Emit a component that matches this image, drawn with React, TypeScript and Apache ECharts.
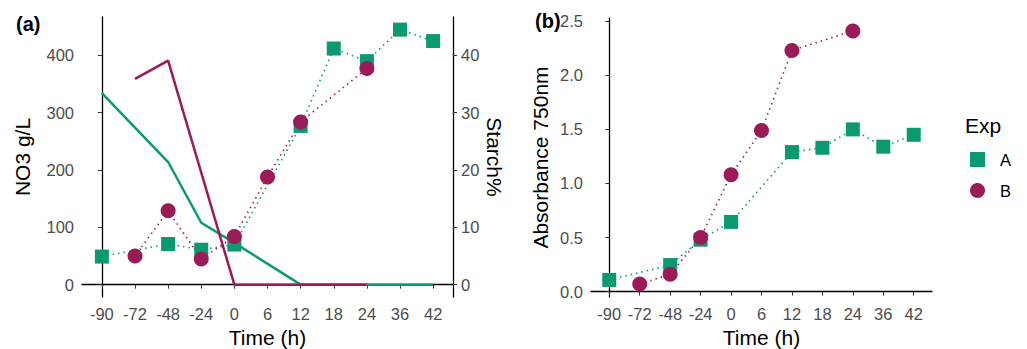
import React, { useEffect, useRef } from "react";
import * as echarts from "echarts";

const timeLabels = ["-90", "-72", "-48", "-24", "0", "6", "12", "18", "24", "36", "42"];

// Panel (a): nitrate (solid lines, left axis) – [time index, value]
const no3A: [number, number][] = [[0, 334], [2, 214], [3, 108], [4, 73], [6, 0], [7, 0], [8, 0], [9, 0], [10, 0]];
const no3B: [number, number][] = [[1, 359], [2, 391], [4, 0], [5, 0], [6, 0], [8, 0]];

// Panel (a): starch % (dotted + markers, right axis)
const starchA: [number, number][] = [[0, 4.9], [2, 7.1], [3, 6.1], [4, 7.0], [6, 27.7], [7, 41.2], [8, 39.0], [9, 44.5], [10, 42.5]];
const starchB: [number, number][] = [[1, 5.0], [2, 12.9], [3, 4.5], [4, 8.4], [5, 18.8], [6, 28.4], [8, 37.7]];

// Panel (b): absorbance 750nm
const absA: [number, number][] = [[0, 0.108], [2, 0.245], [3, 0.48], [4, 0.644], [6, 1.29], [7, 1.33], [8, 1.5], [9, 1.34], [10, 1.45]];
const absB: [number, number][] = [[1, 0.07], [2, 0.16], [3, 0.5], [4, 1.08], [5, 1.49], [6, 2.23], [8, 2.41]];

const no3Ticks = [0, 100, 200, 300, 400];
const starchTicks = [0, 10, 20, 30, 40];
const absTicks = [0, 0.5, 1, 1.5, 2, 2.5];
const xTicks = [0, 1, 2, 3, 4, 5, 6, 7, 8, 9, 10];

const GREEN = "#0A9A72";
const PURPLE = "#9B1B58";
const FONT = "Liberation Sans, Arial, sans-serif";

export default function App() {
  const ref = useRef<HTMLDivElement>(null);
  useEffect(() => {
    if (!ref.current) return;
    const chart = echarts.init(ref.current, undefined, { renderer: "svg" });
    const axisLine = { show: true, lineStyle: { color: "#000", width: 1.3 } };
    const axisTick = (vals: number[]) => ({ show: true, length: 4, lineStyle: { color: "#333", width: 1 }, customValues: vals });
    const label = (vals: number[], fmt?: (v: number) => string) => ({
      color: "#4D4D4D", fontSize: 16.5, fontFamily: FONT, customValues: vals, formatter: fmt, margin: 8,
    });
    const nameStyle = { color: "#000", fontSize: 21, fontFamily: FONT };
    const xAxisBase = (gridIndex: number) => ({
      type: "value" as const, gridIndex, min: -0.6, max: 10.6,
      axisLine, axisTick: axisTick(xTicks),
      axisLabel: label(xTicks, (v: number) => timeLabels[Math.round(v)] ?? ""),
      splitLine: { show: false },
      name: "Time (h)", nameLocation: "middle" as const, nameGap: 30, nameTextStyle: nameStyle,
    });
    const dotted = (color: string) => ({ color, width: 1.6, type: [1.5, 4] as any });
    chart.setOption({
      animation: false,
      textStyle: { fontFamily: FONT },
      grid: [
        { left: 82, width: 371, top: 17, height: 280, outerBoundsMode: "none", containLabel: false },
        { left: 591, width: 341, top: 18, height: 279, outerBoundsMode: "none", containLabel: false },
      ],
      xAxis: [xAxisBase(0), xAxisBase(1)],
      yAxis: [
        {
          type: "value", gridIndex: 0, min: -21.5, max: 467, position: "left",
          axisLine, axisTick: axisTick(no3Ticks), axisLabel: label(no3Ticks), splitLine: { show: false },
          name: "NO3 g/L", nameLocation: "middle", nameGap: 49, nameTextStyle: nameStyle,
        },
        {
          type: "value", gridIndex: 0, min: -2.15, max: 46.7, position: "right",
          axisLine, axisTick: axisTick(starchTicks), axisLabel: label(starchTicks), splitLine: { show: false },
          name: "Starch%", nameLocation: "middle", nameGap: 31, nameRotate: -90, nameTextStyle: nameStyle,
        },
        {
          type: "value", gridIndex: 1, min: -0.05, max: 2.53, position: "left",
          axisLine, axisTick: axisTick(absTicks), axisLabel: label(absTicks, (v: number) => v.toFixed(1)), splitLine: { show: false },
          name: "Absorbance 750nm", nameLocation: "middle", nameGap: 40, nameTextStyle: nameStyle,
        },
      ],
      legend: {
        left: 965, top: 146, orient: "vertical", itemWidth: 15, itemHeight: 15, itemGap: 14,
        textStyle: { color: "#000", fontSize: 16.5, fontFamily: FONT, padding: [0, 0, 0, 10] },
        data: [{ name: "A", icon: "rect" }, { name: "B", icon: "circle" }],
      },
      graphic: [
        { type: "text", left: 16, top: 14, style: { text: "(a)", font: `bold 20px ${FONT}`, fill: "#000" } },
        { type: "text", left: 535, top: 11, style: { text: "(b)", font: `bold 20px ${FONT}`, fill: "#000" } },
        { type: "text", left: 965, top: 115, style: { text: "Exp", font: `21px ${FONT}`, fill: "#000" } },
      ],
      series: [
        { name: "A", type: "line", xAxisIndex: 0, yAxisIndex: 1, data: starchA, symbol: "rect", symbolSize: 14,
          itemStyle: { color: GREEN }, lineStyle: dotted(GREEN) },
        { name: "B", type: "line", xAxisIndex: 0, yAxisIndex: 1, data: starchB, symbol: "circle", symbolSize: 15,
          itemStyle: { color: PURPLE }, lineStyle: dotted(PURPLE) },
        { name: "NO3 A", type: "line", xAxisIndex: 0, yAxisIndex: 0, data: no3A, showSymbol: false, symbol: "none",
          lineStyle: { color: GREEN, width: 2.5 }, itemStyle: { color: GREEN } },
        { name: "NO3 B", type: "line", xAxisIndex: 0, yAxisIndex: 0, data: no3B, showSymbol: false, symbol: "none",
          lineStyle: { color: PURPLE, width: 2.5 }, itemStyle: { color: PURPLE } },
        { name: "A", type: "line", xAxisIndex: 1, yAxisIndex: 2, data: absA, symbol: "rect", symbolSize: 14,
          itemStyle: { color: GREEN }, lineStyle: dotted(GREEN) },
        { name: "B", type: "line", xAxisIndex: 1, yAxisIndex: 2, data: absB, symbol: "circle", symbolSize: 15,
          itemStyle: { color: PURPLE }, lineStyle: dotted(PURPLE) },
      ],
    });
    return () => chart.dispose();
  }, []);
  return <div ref={ref} style={{ position: "fixed", left: 0, top: 0, width: 1027, height: 349, background: "#fff" }} />;
}
